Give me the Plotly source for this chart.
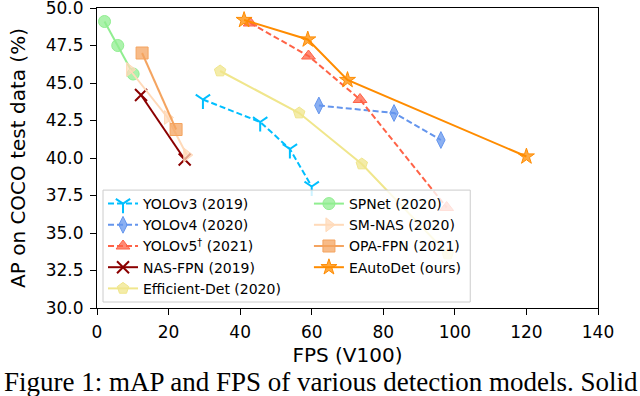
import plotly.graph_objects as go

# FPS (V100) and AP values
yolov3_fps = [29.6, 45.6, 53.9, 60.0]
yolov3_ap = [43.9, 42.4, 40.6, 38.1]

yolov4_fps = [62.0, 83.0, 96.1]
yolov4_ap = [43.5, 43.0, 41.2]

yolov5_fps = [42.8, 59.1, 73.5, 97.7]
yolov5_ap = [49.0, 46.8, 43.9, 36.7]

nasfpn_fps = [12.3, 24.5]
nasfpn_ap = [44.2, 39.9]

effdet_fps = [34.4, 56.5, 74.0, 98.0]
effdet_ap = [45.8, 43.0, 39.6, 33.6]

spnet_fps = [2.1, 5.8, 10.1]
spnet_ap = [49.1, 47.5, 45.6]

smnas_fps = [9.1, 19.7, 25.1]
smnas_ap = [45.9, 42.7, 40.2]

opafpn_fps = [12.6, 22.1]
opafpn_ap = [47.0, 41.9]

eautodet_fps = [41.1, 58.9, 70.0, 120.0]
eautodet_ap = [49.2, 47.9, 45.2, 40.1]

x_ticks = [0, 20, 40, 60, 80, 100, 120, 140]
y_ticks = [30.0, 32.5, 35.0, 37.5, 40.0, 42.5, 45.0, 47.5, 50.0]


def rgba(hex_color, a):
    h = hex_color.lstrip('#')
    r, g, b = int(h[0:2], 16), int(h[2:4], 16), int(h[4:6], 16)
    return 'rgba(%d,%d,%d,%s)' % (r, g, b, a)


# name, x, y, color, dash, symbol, legend column
series = [
    ('YOLOv3 (2019)', yolov3_fps, yolov3_ap, '#00BFFF', '6px,3px', 'y-down', 'legend'),
    ('YOLOv4 (2020)', yolov4_fps, yolov4_ap, '#6495ED', '6px,3px', 'diamond-tall', 'legend'),
    ('YOLOv5<sup>†</sup> (2021)', yolov5_fps, yolov5_ap, '#FF6347', '6px,3px', 'triangle-up', 'legend'),
    ('NAS-FPN (2019)', nasfpn_fps, nasfpn_ap, '#8B0000', 'solid', 'x-thin', 'legend'),
    ('Efficient-Det (2020)', effdet_fps, effdet_ap, '#F0E68C', 'solid', 'pentagon', 'legend'),
    ('SPNet (2020)', spnet_fps, spnet_ap, '#90EE90', 'solid', 'circle', 'legend2'),
    ('SM-NAS (2020)', smnas_fps, smnas_ap, '#FFDAB9', 'solid', 'triangle-right', 'legend2'),
    ('OPA-FPN (2021)', opafpn_fps, opafpn_ap, '#F4A460', 'solid', 'square', 'legend2'),
    ('EAutoDet (ours)', eautodet_fps, eautodet_ap, '#FF8C00', 'solid', 'star', 'legend2'),
]

fig = go.Figure()

for name, xs, ys, color, dash, symbol, leg in series:
    if symbol in ('y-down', 'x-thin'):
        marker = dict(symbol=symbol, size=12, color=color, line=dict(color=color, width=2))
    else:
        marker = dict(symbol=symbol, size=12, color=rgba(color, 0.75), line=dict(color=color, width=1))
    fig.add_trace(go.Scatter(
        x=xs, y=ys, mode='lines+markers', name=name, legend=leg,
        line=dict(color=color, width=2, dash=dash),
        marker=marker,
    ))

axis_common = dict(
    showline=True, linecolor='black', linewidth=1, mirror=True,
    showgrid=False, zeroline=False, automargin=False,
    ticks='outside', ticklen=6, tickcolor='black', tickwidth=1,
    ticklabeloverflow='allow', ticklabelstandoff=3,
    tickfont=dict(family='DejaVu Sans', size=17, color='black'),
)

legend_common = dict(
    orientation='v', xanchor='left', yanchor='top',
    bgcolor='rgba(0,0,0,0)', borderwidth=0,
    font=dict(family='DejaVu Sans', size=14, color='black'),
)

fig.update_layout(
    width=640, height=396,
    margin=dict(l=97, r=42, t=8, b=88),
    plot_bgcolor='white', paper_bgcolor='white',
    xaxis=dict(range=[0, 140], tickvals=x_ticks,
               title=dict(text='FPS (V100)', font=dict(family='DejaVu Sans', size=20, color='black'), standoff=6),
               **axis_common),
    yaxis=dict(range=[30, 50], tickvals=y_ticks, tickformat='.1f',
               title=dict(text='AP on COCO test data (%)', font=dict(family='DejaVu Sans', size=20, color='black'), standoff=14),
               **axis_common),
    legend=dict(x=0.012, y=0.40, **legend_common),
    legend2=dict(x=0.423, y=0.40, **legend_common),
    # semi-transparent legend frame spanning both legend columns
    shapes=[dict(
        type='rect', xref='paper', yref='paper', x0=0.012, x1=0.745, y0=0.02, y1=0.393,
        fillcolor='rgba(255,255,255,0.8)', line=dict(color='#cccccc', width=1), layer='above',
    )],
    annotations=[dict(
        text='Figure 1: mAP and FPS of various detection models. Solid',
        xref='paper', yref='paper', x=-0.19, y=-0.245, xanchor='left', yanchor='middle',
        showarrow=False, font=dict(family='Liberation Serif', size=27, color='black'),
    )],
)

# drop the browser's default 8px body margin so the figure sits at the window origin
fig.write_html("out.html", config={'displayModeBar': False},
               post_script="document.body.style.margin='0';")
